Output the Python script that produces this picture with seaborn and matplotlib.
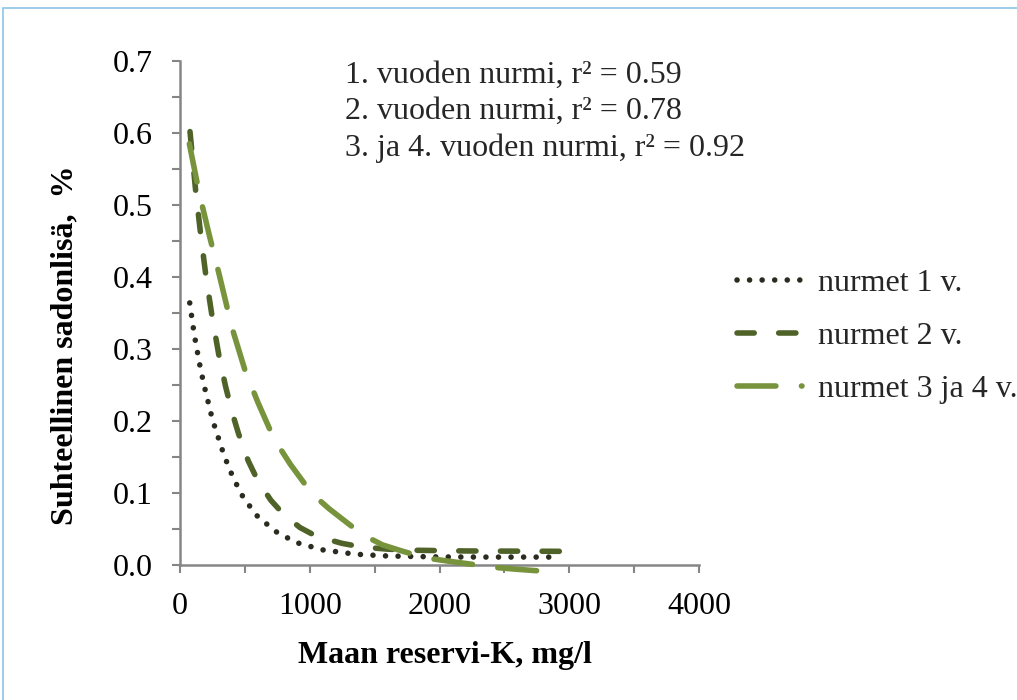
import matplotlib
matplotlib.use("Agg")
import numpy as np
import pandas as pd
import seaborn as sns
import matplotlib.pyplot as plt
from matplotlib.ticker import MultipleLocator, FormatStrFormatter
from matplotlib.patches import Rectangle

# ---- data ----
x_1v = [75, 110, 150, 185, 250, 340, 410, 490, 600, 750, 900, 1100, 1350, 1600, 2000, 2400, 2900]
y_1v = [0.364, 0.320, 0.280, 0.250, 0.202, 0.152, 0.121, 0.093, 0.067, 0.045, 0.031, 0.021, 0.0150, 0.0125, 0.0112, 0.0110, 0.0110]

x_2v = [77, 120, 160, 200, 250, 300, 350, 400, 450, 525, 600, 700, 800, 925, 1050, 1250, 1400, 1600, 1800, 2200, 2930]
y_2v = [0.602, 0.521, 0.458, 0.401, 0.342, 0.291, 0.249, 0.213, 0.183, 0.145, 0.117, 0.090, 0.070, 0.052, 0.040, 0.030, 0.025, 0.022, 0.0205, 0.0195, 0.019]

x_34v = [72, 150, 230, 300, 400, 500, 600, 725, 850, 1017, 1150, 1300, 1409, 1560, 1700, 1887, 2062, 2250, 2401, 2600, 2884]
y_34v = [0.585, 0.515, 0.455, 0.405, 0.330, 0.271, 0.226, 0.175, 0.140, 0.099, 0.078, 0.057, 0.042, 0.028, 0.020, 0.010, 0.0055, 0.001, -0.003, -0.006, -0.0097]

labels = ["nurmet 1 v.", "nurmet 2 v.", "nurmet 3 ja 4 v."]
colors = ["#2b2b20", "#4f6228", "#77933c"]
annot = ["1. vuoden nurmi, r² = 0.59",
         "2. vuoden nurmi, r² = 0.78",
         "3. ja 4. vuoden nurmi, r² = 0.92"]

# ---- style ----
sns.set_theme(style="white")
plt.rcParams["font.family"] = ["Liberation Serif", "DejaVu Serif"]

W, H = 1017, 700
fig = plt.figure(figsize=(W / 100, H / 100), dpi=100)
ax = fig.add_axes([180 / W, 135 / H, 519 / W, 504 / H])

series = [(x_1v, y_1v), (x_2v, y_2v), (x_34v, y_34v)]
styles = [(0, (0.01, 2.25)), (0, (3.1, 4.4)), (0, (7.0, 4.6))]
for (xs, ys), lab, col, ls in zip(series, labels, colors, styles):
    df = pd.DataFrame({"x": xs, "y": ys})
    sns.lineplot(data=df, x="x", y="y", ax=ax, color=col, lw=4, sort=False,
                 label=lab, legend=False)
    ln = ax.lines[-1]
    ln.set_linestyle(ls)
    ln.set_dash_capstyle("round")
    ln.set_solid_capstyle("round")
    ln.set_clip_on(False)
    ln.set_zorder(3)

ax.set_xlim(0, 4000)
ax.set_ylim(0, 0.7)
ax.xaxis.set_major_locator(MultipleLocator(1000))
ax.xaxis.set_minor_locator(MultipleLocator(500))
ax.yaxis.set_major_locator(MultipleLocator(0.1))
ax.yaxis.set_minor_locator(MultipleLocator(0.05))
ax.yaxis.set_major_formatter(FormatStrFormatter("%.1f"))

axis_col = "#868686"
for s in ["top", "right"]:
    ax.spines[s].set_visible(False)
for s in ["left", "bottom"]:
    ax.spines[s].set_color(axis_col)
    ax.spines[s].set_linewidth(1.8)

ax.tick_params(which="both", direction="out", length=5.5, width=1.5,
               color=axis_col, bottom=True, left=True)
ax.tick_params(axis="both", which="major", labelsize=23, labelcolor="black")
ax.tick_params(axis="y", which="major", pad=14)
ax.tick_params(axis="x", which="major", pad=14)

ax.set_xlabel("Maan reservi-K, mg/l", fontsize=23, fontweight="bold", color="black")
ax.set_ylabel("Suhteellinen sadonlisä,  %", fontsize=23, fontweight="bold", color="black")
ax.xaxis.label.set_va("center")
ax.yaxis.label.set_va("center")
ax.xaxis.set_label_coords(0.51, -0.179)
ax.yaxis.set_label_coords(-0.222, 0.4365)

# annotation lines
for i, t in enumerate(annot):
    fig.text(345 / W, 1 - (75 + 36.5 * i) / H, t, fontsize=23, va="center", ha="left")

# legend
handles = ax.lines[:3]
leg = fig.legend(handles, labels, loc="center left",
                 bbox_to_anchor=(737 / W, 1 - 336.5 / H), frameon=False,
                 fontsize=23, handlelength=2.05, handletextpad=0.5,
                 labelspacing=0.75, borderpad=0, borderaxespad=0)

# light blue frame (top and left edges visible)
fig.add_artist(Rectangle((3 / W, -0.5), 2, 1 - 8 / H + 0.5, transform=fig.transFigure,
                         fill=False, edgecolor="#8cc5e6", lw=1.2))

fig.savefig("out.png", dpi=100)
